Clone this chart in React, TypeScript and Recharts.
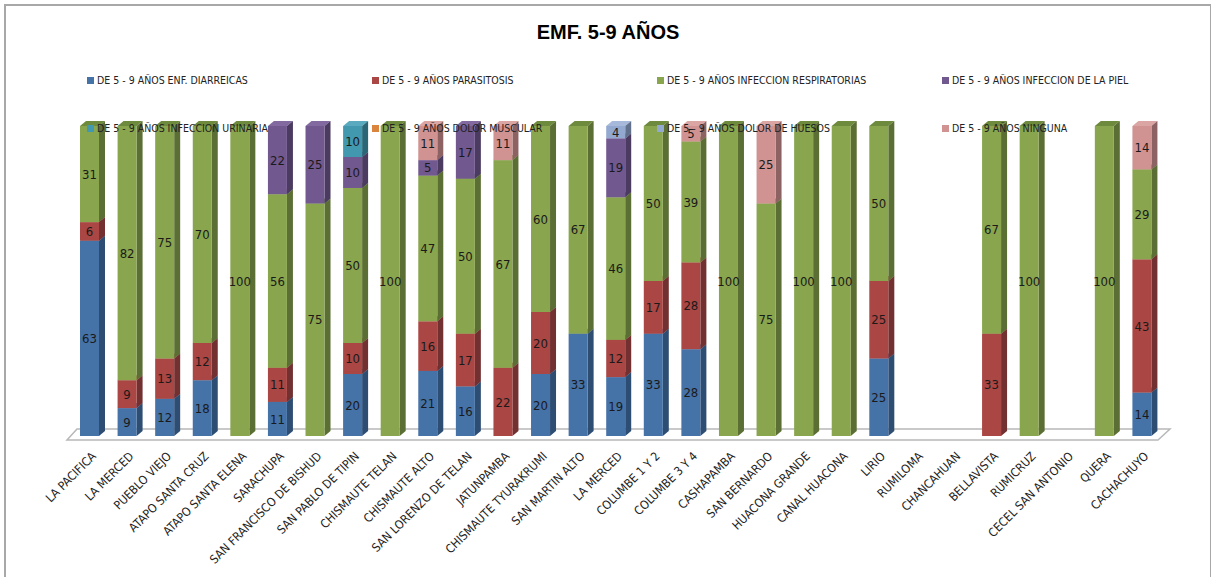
import React from "react";
import {
  BarChart,
  Bar,
  XAxis,
  YAxis,
  LabelList,
  Legend,
  ReferenceArea,
} from "recharts";

const categories = [
  "LA PACIFICA", "LA MERCED", "PUEBLO VIEJO", "ATAPO SANTA CRUZ", "ATAPO SANTA ELENA",
  "SARACHUPA", "SAN FRANCISCO DE BISHUD", "SAN PABLO DE TIPIN", "CHISMAUTE TELAN",
  "CHISMAUTE ALTO", "SAN LORENZO DE TELAN", "JATUNPAMBA", "CHISMAUTE TYURAKRUMI",
  "SAN MARTIN ALTO", "LA MERCED", "COLUMBE 1 Y 2", "COLUMBE 3 Y 4", "CASHAPAMBA",
  "SAN BERNARDO", "HUACONA GRANDE", "CANAL HUACONA", "LIRIO", "RUMILOMA",
  "CHANCAHUAN", "BELLAVISTA", "RUMICRUZ", "CECEL SAN ANTONIO", "QUERA", "CACHACHUYO",
];

const diarreicas = [63, 9, 12, 18, 0, 11, 0, 20, 0, 21, 16, 0, 20, 33, 19, 33, 28, 0, 0, 0, 0, 25, 0, 0, 0, 0, 0, 0, 14];
const parasitosis = [6, 9, 13, 12, 0, 11, 0, 10, 0, 16, 17, 22, 20, 0, 12, 17, 28, 0, 0, 0, 0, 25, 0, 0, 33, 0, 0, 0, 43];
const respiratorias = [31, 82, 75, 70, 100, 56, 75, 50, 100, 47, 50, 67, 60, 67, 46, 50, 39, 100, 75, 100, 100, 50, 0, 0, 67, 100, 0, 100, 29];
const piel = [0, 0, 0, 0, 0, 22, 25, 10, 0, 5, 17, 0, 0, 0, 19, 0, 0, 0, 0, 0, 0, 0, 0, 0, 0, 0, 0, 0, 0];
const urinaria = [0, 0, 0, 0, 0, 0, 0, 10, 0, 0, 0, 0, 0, 0, 0, 0, 0, 0, 0, 0, 0, 0, 0, 0, 0, 0, 0, 0, 0];
const muscular = [0, 0, 0, 0, 0, 0, 0, 0, 0, 0, 0, 0, 0, 0, 0, 0, 0, 0, 0, 0, 0, 0, 0, 0, 0, 0, 0, 0, 0];
const huesos = [0, 0, 0, 0, 0, 0, 0, 0, 0, 0, 0, 0, 0, 0, 4, 0, 0, 0, 0, 0, 0, 0, 0, 0, 0, 0, 0, 0, 0];
const ninguna = [0, 0, 0, 0, 0, 0, 0, 0, 0, 11, 0, 11, 0, 0, 0, 0, 5, 0, 25, 0, 0, 0, 0, 0, 0, 0, 0, 0, 14];

const seriesNames = [
  "DE 5 - 9 AÑOS ENF. DIARREICAS",
  "DE 5 - 9 AÑOS PARASITOSIS",
  "DE 5 - 9 AÑOS INFECCION RESPIRATORIAS",
  "DE 5 - 9 AÑOS INFECCION DE LA PIEL",
  "DE 5 - 9 AÑOS INFECCION URINARIA",
  "DE 5 - 9 AÑOS DOLOR MUSCULAR",
  "DE 5 - 9 AÑOS DOLOR DE HUESOS",
  "DE 5 - 9 AÑOS NINGUNA",
];
const seriesValues = [diarreicas, parasitosis, respiratorias, piel, urinaria, muscular, huesos, ninguna];
const frontColors = ["#4572A7", "#AA4643", "#89A54E", "#71588F", "#4198AF", "#DB843D", "#93A9CF", "#D19392"];
const sideColors = ["#2E4D73", "#723030", "#5B6E34", "#4B3B60", "#2B6676", "#935828", "#62718B", "#8C6362"];
const topColors = ["#5A82B5", "#B85A57", "#6E8A3C", "#826AA0", "#5AAABF", "#E39A5A", "#A6B9DA", "#DBA5A4"];

const keys = seriesNames.map((_, i) => "s" + i);
const data = categories.map((name, c) => {
  const row: Record<string, string | number> = { name };
  seriesValues.forEach((vals, i) => {
    row[keys[i]] = vals[c];
  });
  return row;
});

const font = "'Liberation Sans Narrow', 'DejaVu Sans Condensed', 'Liberation Sans', sans-serif";
const DX = 6;
const DY = 5;

function Box3D(props: any) {
  const { x, y, width, height, front, side, top } = props;
  if (!height || height <= 0) return null;
  return (
    <g>
      <polygon
        points={`${x},${y} ${x + DX},${y - DY} ${x + width + DX},${y - DY} ${x + width},${y}`}
        fill={top}
      />
      <polygon
        points={`${x + width},${y} ${x + width + DX},${y - DY} ${x + width + DX},${y + height - DY} ${x + width},${y + height}`}
        fill={side}
      />
      <rect x={x} y={y} width={width} height={height} fill={front} />
    </g>
  );
}

function Floor(props: any) {
  const { x, y, height, width } = props;
  const b = y + height;
  return (
    <polygon
      points={`${x - 4},${b + 4} ${x + width - 3},${b + 4} ${x + width + 9},${b - 7} ${x + 6},${b - 7}`}
      fill="#ffffff"
      stroke="#b8b8b8"
      strokeWidth={1.5}
    />
  );
}

function CategoryTick(props: any) {
  const { x, y, payload } = props;
  return (
    <g transform={`translate(${x + 7},${y + 13})`}>
      <text
        x={0}
        y={0}
        textAnchor="end"
        transform="rotate(-45)"
        fontSize={12}
        fontFamily={font}
        fill="#222"
      >
        {payload.value}
      </text>
    </g>
  );
}

function LegendGrid() {
  return (
    <div style={{ position: "relative", width: 1140, height: 70 }}>
      {seriesNames.map((n, i) => (
        <div
          key={n}
          style={{
            position: "absolute",
            left: (i % 4) * 285,
            top: Math.floor(i / 4) * 48,
            display: "flex",
            alignItems: "center",
            fontFamily: font,
            fontSize: 10.5,
            color: "#222",
            whiteSpace: "nowrap",
          }}
        >
          <span style={{ width: 7, height: 7, background: frontColors[i], marginRight: 3, display: "inline-block" }} />
          {n}
        </div>
      ))}
    </div>
  );
}

export default function App() {
  return (
    <div
      style={{
        position: "fixed",
        left: 4,
        top: 4,
        width: 1204,
        height: 600,
        border: "2px solid #a8a8a8",
        background: "#fff",
      }}
    >
      <div
        style={{
          position: "absolute",
          top: 15,
          left: 0,
          width: 1204,
          textAlign: "center",
          fontFamily: "'Liberation Sans', Arial, sans-serif",
          fontWeight: "bold",
          fontSize: 20,
          color: "#000",
        }}
      >
        EMF. 5-9 AÑOS
      </div>
      <BarChart
        width={1204}
        height={565}
        data={data}
        margin={{ top: 120, right: 49, left: 65, bottom: 5 }}
        barSize={19}
      >
        <XAxis
          dataKey="name"
          interval={0}
          height={130}
          tickLine={false}
          axisLine={false}
          tick={<CategoryTick />}
        />
        <YAxis hide domain={[0, 100]} />
        <ReferenceArea y1={0} y2={1} ifOverflow="visible" shape={<Floor />} />
        {keys.map((k, i) => (
          <Bar
            key={k}
            dataKey={k}
            name={seriesNames[i]}
            stackId="a"
            fill={frontColors[i]}
            isAnimationActive={false}
            shape={<Box3D front={frontColors[i]} side={sideColors[i]} top={topColors[i]} />}
          >
            <LabelList
              dataKey={k}
              position="center"
              formatter={(v: any) => (v ? v : "")}
              style={{ fontSize: 13, fontFamily: font, fill: "#1a1a1a" }}
            />
          </Bar>
        ))}
        <Legend
          verticalAlign="middle"
          align="center"
          layout="horizontal"
          wrapperStyle={{ top: 68, left: 81, width: 1140 }}
          content={<LegendGrid />}
        />
      </BarChart>
    </div>
  );
}
